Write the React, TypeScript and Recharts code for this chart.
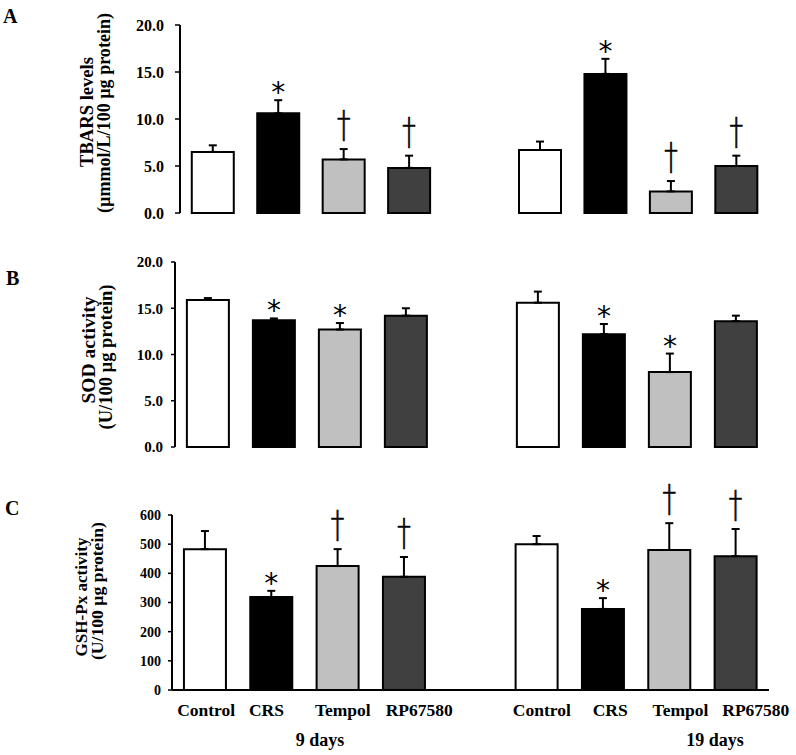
import React from 'react';
import { BarChart, Bar, XAxis, YAxis, ErrorBar, Cell, LabelList } from 'recharts';

const SERIF = '"Liberation Serif", "Times New Roman", serif';

// 9 slots: 4 groups at 9 days, an empty spacer, 4 groups at 19 days
const categories = ['Control', 'CRS', 'Tempol', 'RP67580', '', 'Control', 'CRS', 'Tempol', 'RP67580'];
const barFills = ['#ffffff', '#000000', '#c0c0c0', '#404040', '#ffffff', '#ffffff', '#000000', '#c0c0c0', '#404040'];
// the category names in the original sit a little off their bars
const nameShift = [1, -5, 5, 15, 0, 5, 7, 11, 20];

const tbarsValues = [6.5, 10.6, 5.7, 4.8, null, 6.7, 14.8, 2.3, 5.0];
const tbarsErrors = [0.7, 1.4, 1.1, 1.3, 0, 0.9, 1.6, 1.1, 1.1];
const tbarsMarks = ['', '*', '†', '†', '', '', '*', '†', '†'];
const tbarsTicks = [0, 5, 10, 15, 20];

const sodValues = [15.9, 13.7, 12.7, 14.2, null, 15.6, 12.2, 8.1, 13.6];
const sodErrors = [0.2, 0.2, 0.7, 0.8, 0, 1.2, 1.1, 2.0, 0.6];
const sodMarks = ['', '*', '*', '', '', '', '*', '*', ''];
const sodTicks = [0, 5, 10, 15, 20];

const gshValues = [483, 319, 425, 388, null, 500, 278, 480, 459];
const gshErrors = [62, 21, 58, 68, 0, 28, 37, 92, 93];
const gshMarks = ['', '*', '†', '†', '', '', '*', '†', '†'];
const gshTicks = [0, 100, 200, 300, 400, 500, 600];

const buildRows = (values: (number | null)[], errors: number[]) =>
  values.map((v, i) => ({ key: i, value: v, err: [0, errors[i]] }));

// significance marks sit above the error bar; the label value is the slot index
const markLabel = (values: (number | null)[], marks: string[], errors: number[]) => (props: any) => {
  const { x, y, width, height, value } = props;
  const i = Number(value);
  const v = values[i];
  if (v == null || !marks[i] || !height) return null;
  const errTop = y - (errors[i] * height) / v;
  const cx = x + width / 2;
  if (marks[i] === '*') {
    return (
      <text x={cx} y={errTop + 2} textAnchor="middle" fontSize={28} fontFamily='"DejaVu Sans", sans-serif' fill="#000">
        *
      </text>
    );
  }
  const by = errTop - 12;
  return (
    <text x={cx} y={by} textAnchor="middle" fontSize={30} fontFamily='"DejaVu Sans", sans-serif' fontWeight={200} fill="#000" stroke="#000" strokeWidth={0.6} transform={`translate(${cx},${by}) scale(0.9,1.25) translate(${-cx},${-by})`}>
      †
    </text>
  );
};

const NameTick = (props: any) => {
  const { x, y, payload } = props;
  const i = Number(payload.value);
  return (
    <text x={x + nameShift[i]} y={y} dy="0.71em" textAnchor="middle" fontSize={17.5} fontWeight="bold" fontFamily={SERIF} fill="#000">
      {categories[i]}
    </text>
  );
};

interface PanelProps {
  top: number;
  height: number;
  plotLeft: number;
  plotTop: number;
  plotBottom: number;
  values: (number | null)[];
  errors: number[];
  marks: string[];
  ticks: number[];
  decimals: number;
  showNames?: boolean;
  tickSize: number;
  tickMargin: number;
  tickFont: number;
}

const Panel: React.FC<PanelProps> = (p) => {
  const rows = buildRows(p.values, p.errors);
  const xAxisHeight = p.showNames ? 30 : 0;
  const yWidth = 60;
  return (
    <div style={{ position: 'absolute', left: 0, top: p.top }}>
      <BarChart
        width={796}
        height={p.height}
        data={rows}
        barCategoryGap="18%"
        margin={{ top: p.plotTop, right: 27, bottom: p.height - p.plotBottom - xAxisHeight, left: p.plotLeft - yWidth }}
      >
        <XAxis
          dataKey="key"
          type="category"
          interval={0}
          height={xAxisHeight}
          axisLine={{ stroke: '#000', strokeWidth: 2 }}
          tickLine={false}
          tickSize={6}
          tickMargin={8}
          tick={p.showNames ? <NameTick /> : false}
        />
        <YAxis
          width={yWidth}
          domain={[p.ticks[0], p.ticks[p.ticks.length - 1]]}
          ticks={p.ticks}
          interval={0}
          axisLine={{ stroke: '#000', strokeWidth: 2 }}
          tickLine={{ stroke: '#000', strokeWidth: 1.5 }}
          tickSize={p.tickSize}
          tickMargin={p.tickMargin}
          tick={{ fontSize: p.tickFont, fontWeight: 'bold', fill: '#000', fontFamily: SERIF }}
          tickFormatter={(v) => v.toFixed(p.decimals)}
        />
        <Bar dataKey="value" stroke="#000" strokeWidth={2} isAnimationActive={false}>
          {rows.map((r, i) => (
            <Cell key={i} fill={barFills[i]} />
          ))}
          <ErrorBar dataKey="err" direction="y" width={4} stroke="#000" strokeWidth={2} />
          <LabelList dataKey="key" content={markLabel(p.values, p.marks, p.errors)} />
        </Bar>
      </BarChart>
    </div>
  );
};

// two-line rotated axis title; each line is [baselineX, centerY, length, text]
const YTitle = ({ lines, size }: { lines: [number, number, number, string][]; size: number }) => (
  <g fontFamily={SERIF} fontSize={size} fontWeight="bold" fill="#000">
    {lines.map(([x, y, len, t], i) => (
      <text key={i} transform={`translate(${x},${y}) rotate(-90)`} textAnchor="middle" textLength={len} lengthAdjust="spacingAndGlyphs">
        {t}
      </text>
    ))}
  </g>
);

export default function App() {
  return (
    <div style={{ position: 'absolute', left: 0, top: 0, width: 796, height: 755, background: '#fff' }}>
      <Panel top={0} height={230} plotLeft={180} plotTop={25} plotBottom={213} values={tbarsValues} errors={tbarsErrors} marks={tbarsMarks} ticks={tbarsTicks} decimals={1} tickSize={5} tickMargin={11} tickFont={16} />
      <Panel top={230} height={230} plotLeft={175} plotTop={32} plotBottom={217} values={sodValues} errors={sodErrors} marks={sodMarks} ticks={sodTicks} decimals={1} tickSize={4} tickMargin={8} tickFont={15} />
      <Panel top={460} height={295} plotLeft={172} plotTop={55} plotBottom={230} values={gshValues} errors={gshErrors} marks={gshMarks} ticks={gshTicks} decimals={0} showNames tickSize={4} tickMargin={7} tickFont={14} />
      <svg width={796} height={755} style={{ position: 'absolute', left: 0, top: 0, pointerEvents: 'none' }}>
        <g fontFamily={SERIF} fontWeight="bold" fill="#000">
          <text x={3} y={23} fontSize={20}>A</text>
          <text x={6} y={285} fontSize={20}>B</text>
          <text x={5} y={515} fontSize={20}>C</text>
          <text x={320} y={746} fontSize={18} textAnchor="middle">9 days</text>
          <text x={715} y={746} fontSize={18} textAnchor="middle">19 days</text>
        </g>
        <YTitle size={18} lines={[[93, 112, 110, 'TBARS levels'], [110, 113, 200, '(µmmol/L/100 µg protein)']]} />
        <YTitle size={18} lines={[[95, 350, 107, 'SOD activity'], [112, 357, 145, '(U/100 µg protein)']]} />
        <YTitle size={17.5} lines={[[87, 597, 119, 'GSH-Px activity'], [103, 591, 138, '(U/100 µg protein)']]} />
      </svg>
    </div>
  );
}
